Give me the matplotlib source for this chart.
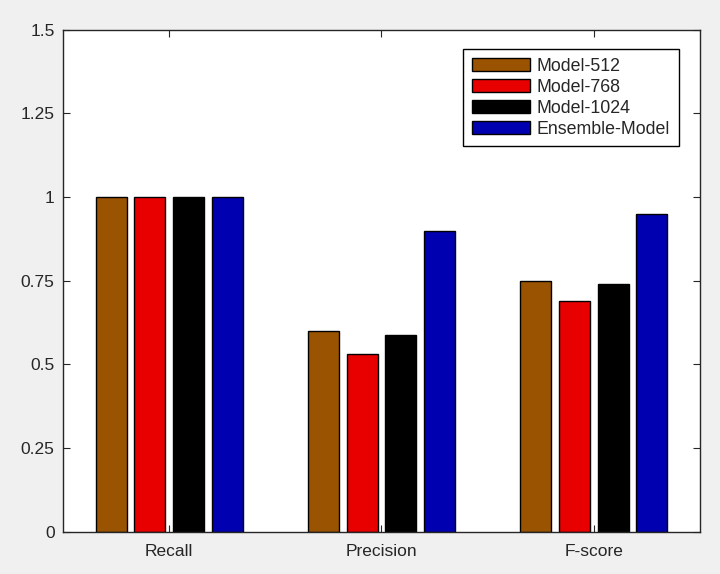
import matplotlib
matplotlib.use("Agg")
import matplotlib.pyplot as plt
import numpy as np

plt.rcParams['font.family'] = ['Liberation Sans', 'DejaVu Sans']

categories = ["Recall", "Precision", "F-score"]
series_names = ["Model-512", "Model-768", "Model-1024", "Ensemble-Model"]
model_512 = [1.0, 0.600, 0.750]
model_768 = [1.0, 0.531, 0.688]
model_1024 = [1.0, 0.587, 0.741]
ensemble = [1.0, 0.898, 0.949]
yticks = [0, 0.25, 0.5, 0.75, 1, 1.25, 1.5]
ytick_labels = ["0", "0.25", "0.5", "0.75", "1", "1.25", "1.5"]

colors = ["#9a5300", "#e80000", "#000000", "#0000b0"]
series = [model_512, model_768, model_1024, ensemble]

fig = plt.figure(figsize=(7.2, 5.74), dpi=100, facecolor="#f0f0f0")
ax = fig.add_axes([0.0875, 0.074, 0.8847, 0.874])
ax.set_facecolor("white")

x = np.arange(1, len(categories) + 1)
n = len(series)
groupwidth = min(0.8, n / (n + 1.5))
step = groupwidth / n
width = 0.8 * step
for i, (vals, c, name) in enumerate(zip(series, colors, series_names)):
    offset = (i - (n - 1) / 2) * step
    ax.bar(x + offset, vals, width=width, color=c, edgecolor="black",
           linewidth=1.0, label=name, zorder=2)

ax.set_xlim(0.5, 3.5)
ax.set_ylim(0, 1.5)
ax.set_xticks(x)
ax.set_xticklabels(categories)
ax.set_yticks(yticks)
ax.set_yticklabels(ytick_labels)
ax.tick_params(direction="in", length=5, width=0.8, top=True, right=True,
               labelsize=12.5, colors="#262626", labelcolor="#262626", pad=6)
ax.tick_params(axis="x", pad=9)
for s in ax.spines.values():
    s.set_linewidth(1.0)
    s.set_color("#262626")

leg = ax.legend(loc="upper right", bbox_to_anchor=(0.967, 0.962), fontsize=12.8,
                fancybox=False, shadow=False, framealpha=1, edgecolor="black",
                handlelength=3.25, handleheight=0.8, labelspacing=0.22,
                handletextpad=0.38, borderpad=0.5, borderaxespad=0)
leg.get_frame().set_linewidth(1.0)
for t in leg.get_texts():
    t.set_color("#262626")

fig.savefig("out.png", dpi=100, facecolor=fig.get_facecolor())
